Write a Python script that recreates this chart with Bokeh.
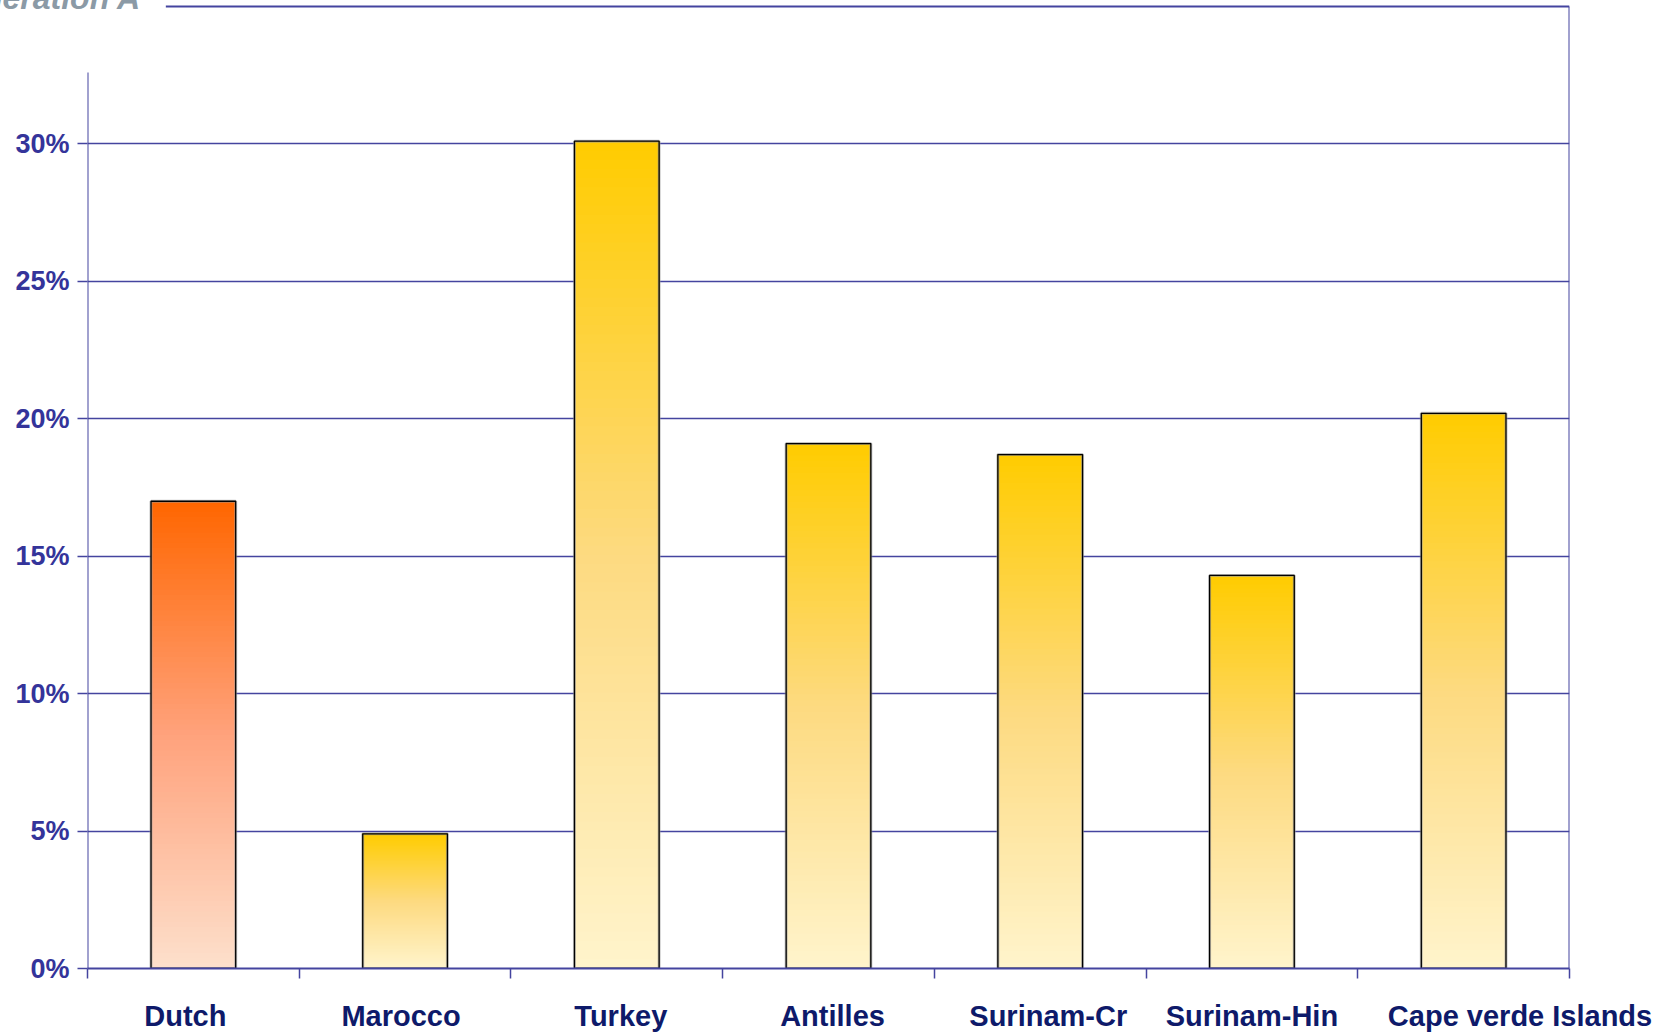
import numpy as np
from bokeh.plotting import figure
from bokeh.layouts import column
from bokeh.models import Range1d, FixedTicker, PrintfTickFormatter, ColumnDataSource, Div
from bokeh.embed import file_html
from bokeh.resources import INLINE

# --- data -------------------------------------------------------------
categories = ["Dutch", "Marocco", "Turkey", "Antilles",
              "Surinam-Cr", "Surinam-Hin", "Cape verde Islands"]
shares = [17.0, 4.9, 30.1, 19.1, 18.7, 14.3, 20.2]   # percent
y_ticks = [0, 5, 10, 15, 20, 25, 30]
highlight = "Dutch"
title_text = "Generation A"

# --- styling ----------------------------------------------------------
AXIS_BLUE = "#44449f"
TICK_LABEL = "#34349a"
CAT_LABEL = "#0e1a6a"
FONT = "Liberation Sans"
# (leading, trailing) no-break spaces that nudge each category name sideways
LABEL_PAD = [(0, 2), (0, 1), (1, 0), (1, 0), (2, 0), (0, 0), (14, 0)]

# three-stop vertical gradients (top, middle, bottom)
GRAD_HI = ["#ff6600", "#ffa27c", "#fde0cc"]
GRAD_STD = ["#ffcc00", "#fdda80", "#fff4cc"]

def hex_to_rgb(h):
    h = h.lstrip("#")
    return np.array([int(h[i:i + 2], 16) for i in (0, 2, 4)], dtype=float)

def gradient_color(stops, t):
    """t = 0 at the top of the bar, 1 at the bottom."""
    a, m, b = (hex_to_rgb(s) for s in stops)
    if t < 0.5:
        c = a + (m - a) * (t / 0.5)
    else:
        c = m + (b - m) * ((t - 0.5) / 0.5)
    c = np.clip(np.round(c), 0, 255).astype(int)
    return "#%02x%02x%02x" % tuple(c)

W, H = 1677, 1034
n = len(categories)
p = figure(width=W, height=H, output_backend="svg", toolbar_location=None,
           x_range=Range1d(0, n), y_range=Range1d(0, 35.22),
           min_border_left=87, min_border_right=108,
           min_border_top=0, min_border_bottom=65)
p.outline_line_color = None
p.background_fill_color = "white"
p.border_fill_color = "white"

# grid
p.xgrid.visible = False
p.ygrid.ticker = FixedTicker(ticks=y_ticks[1:])
p.ygrid.grid_line_color = AXIS_BLUE
p.ygrid.grid_line_width = 1.3

# y axis: ticks and labels; its line is drawn separately (it stops below the top)
yax = p.yaxis[0]
yax.ticker = FixedTicker(ticks=y_ticks)
yax.formatter = PrintfTickFormatter(format="%d%%")
yax.axis_line_color = None
yax.major_tick_line_color = AXIS_BLUE
yax.major_tick_line_width = 1.5
yax.major_tick_out = 10
yax.major_tick_in = 0
yax.minor_tick_line_color = None
yax.major_label_standoff = 8
yax.major_label_text_font = FONT
yax.major_label_text_font_style = "bold"
yax.major_label_text_font_size = "27px"
yax.major_label_text_color = TICK_LABEL

# x axis: names at the bar centres, boundary ticks as minor ticks
centres = [i + 0.5 for i in range(n)]
names = ["\u00a0" * lead + cat + "\u00a0" * trail
         for cat, (lead, trail) in zip(categories, LABEL_PAD)]
xax = p.xaxis[0]
xax.ticker = FixedTicker(ticks=centres, minor_ticks=list(range(n + 1)))
xax.major_label_overrides = {c: nm for c, nm in zip(centres, names)}
xax.axis_line_color = AXIS_BLUE
xax.axis_line_width = 2
xax.major_tick_line_color = None
xax.major_tick_out = 10
xax.major_tick_in = 0
xax.minor_tick_line_color = AXIS_BLUE
xax.minor_tick_line_width = 1.5
xax.minor_tick_out = 10
xax.minor_tick_in = 0
xax.major_label_standoff = 21
xax.major_label_text_font = FONT
xax.major_label_text_font_style = "bold"
xax.major_label_text_font_size = "29px"
xax.major_label_text_color = CAT_LABEL

# frame lines: left axis line, top rule and right border
p.segment(x0=[0], y0=[0], x1=[0], y1=[32.6], line_color=AXIS_BLUE, line_width=2)
p.segment(x0=[0.37], y0=[35.0], x1=[n], y1=[35.0], line_color=AXIS_BLUE, line_width=2)
p.segment(x0=[n], y0=[0], x1=[n], y1=[35.0], line_color=AXIS_BLUE, line_width=2)

# bars with vertical gradient: each slice runs from its base to the bar top,
# painted bottom-up so that later slices cover the upper part (no seams)
half = 0.2
N = 90
left, right, bottom, top, colors = [], [], [], [], []
for i, (cat, v) in enumerate(zip(categories, shares)):
    stops = GRAD_HI if cat == highlight else GRAD_STD
    xc = i + 0.5
    for k in range(N):
        left.append(xc - half)
        right.append(xc + half)
        bottom.append(v * k / N)
        top.append(v)
        colors.append(gradient_color(stops, 1 - (k + 0.5) / N))

p.quad(left=left, right=right, bottom=bottom, top=top,
       fill_color=colors, line_color=None)

bars = ColumnDataSource(dict(x=centres, top=shares))
# faint drop shadow and black outline
p.vbar(x="x", top="top", width=2 * half, bottom=0, source=bars,
       fill_color=None, line_color="#9a9a9a", line_width=3, line_alpha=0.6)
p.vbar(x="x", top="top", width=2 * half, bottom=0, source=bars,
       fill_color=None, line_color="black", line_width=1.3)

# heading in the top-left corner, running off the top of the page
heading = Div(text=title_text, width=200, height=40, margin=0,
              styles={"position": "absolute", "left": "-60px", "top": "-18px",
                      "z-index": "2", "font-family": FONT, "font-weight": "bold",
                      "font-style": "italic", "font-size": "32px",
                      "line-height": "32px", "color": "#8b9aa6",
                      "text-align": "right", "white-space": "nowrap"})

page = column(p, heading)
open("out.html", "w").write(file_html(page, INLINE))
